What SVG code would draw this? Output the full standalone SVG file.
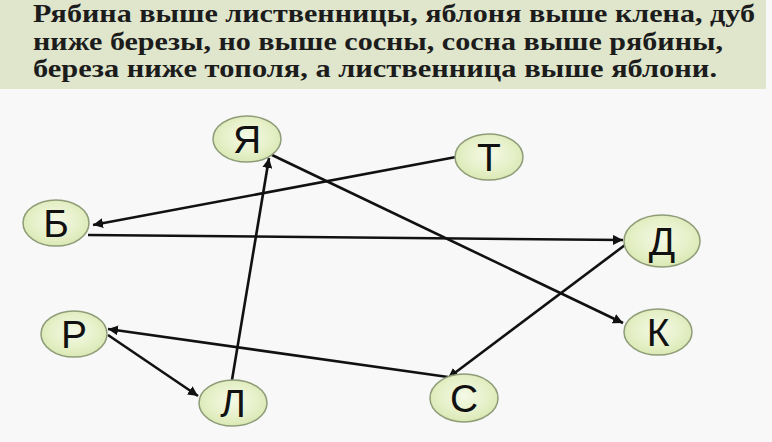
<svg xmlns="http://www.w3.org/2000/svg" width="772" height="442" viewBox="0 0 772 442">
<style>
.hdr{font-family:"Liberation Serif","DejaVu Serif",serif;font-weight:bold;font-size:26px;fill:#1c1c1c}
.node ellipse{fill:url(#ng);stroke:#8f9c78;stroke-width:1.5}
.node text{font-family:"Liberation Sans",Arial,sans-serif;font-size:39px;fill:#111;text-anchor:middle;dominant-baseline:central}
.edge{stroke:#111;stroke-width:2.6;fill:none;marker-end:url(#ah)}
</style>
<defs>
<radialGradient id="ng" cx="50%" cy="45%" r="60%">
<stop offset="0" stop-color="#f4f9e6"/>
<stop offset="0.6" stop-color="#e6f0c8"/>
<stop offset="1" stop-color="#d6e6ae"/>
</radialGradient>
<marker id="ah" markerUnits="userSpaceOnUse" markerWidth="12" markerHeight="10" refX="10" refY="5" orient="auto">
<path d="M0,0 L10,5 L0,10 Z" fill="#111"/>
</marker>
</defs>
<rect x="0" y="0" width="772" height="442" fill="#f8f8f8"/>
<rect x="0" y="0" width="766" height="89" fill="#dfe6cc"/>
<g id="header">
<text class="hdr" x="33" y="22" textLength="722" lengthAdjust="spacingAndGlyphs">Рябина выше лиственницы, яблоня выше клена, дуб</text>
<text class="hdr" x="33" y="50" textLength="690" lengthAdjust="spacingAndGlyphs">ниже березы, но выше сосны, сосна выше рябины,</text>
<text class="hdr" x="33" y="77" textLength="684" lengthAdjust="spacingAndGlyphs">береза ниже тополя, а лиственница выше яблони.</text>
</g>
<g id="connectors">
<line class="edge" x1="456" y1="157" x2="93" y2="225"/>
<line class="edge" x1="88" y1="235" x2="623" y2="240"/>
<line class="edge" x1="232" y1="380" x2="269" y2="158"/>
<line class="edge" x1="272" y1="155" x2="623" y2="323"/>
<line class="edge" x1="625" y1="245" x2="448" y2="378"/>
<line class="edge" x1="448" y1="377" x2="108" y2="329"/>
<line class="edge" x1="108" y1="335" x2="198" y2="396"/>
</g>
<g id="node-ya" class="node"><ellipse cx="247" cy="139" rx="34" ry="23"/><text x="247" y="139">Я</text></g>
<g id="node-t" class="node"><ellipse cx="489" cy="157" rx="34" ry="23"/><text x="489" y="157">Т</text></g>
<g id="node-b" class="node"><ellipse cx="56" cy="223" rx="33" ry="23"/><text x="56" y="223">Б</text></g>
<g id="node-d" class="node"><ellipse cx="662" cy="241" rx="38" ry="26"/><text x="662" y="241">Д</text></g>
<g id="node-r" class="node"><ellipse cx="74" cy="334" rx="33" ry="23"/><text x="74" y="334">Р</text></g>
<g id="node-k" class="node"><ellipse cx="658" cy="332" rx="34" ry="23"/><text x="658" y="332">К</text></g>
<g id="node-l" class="node"><ellipse cx="233" cy="403" rx="34" ry="23"/><text x="233" y="403">Л</text></g>
<g id="node-s" class="node"><ellipse cx="464" cy="398" rx="34" ry="24"/><text x="464" y="398">С</text></g>
</svg>
